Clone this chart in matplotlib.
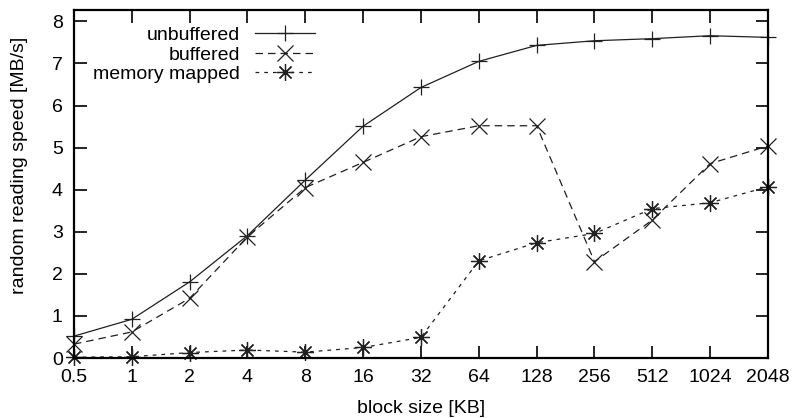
import numpy as np
import matplotlib.pyplot as plt

plt.rcParams['font.family'] = ['Liberation Sans', 'DejaVu Sans']

block_sizes = ["0.5", "1", "2", "4", "8", "16", "32", "64", "128", "256", "512", "1024", "2048"]
unbuffered = [0.52, 0.92, 1.81, 2.91, 4.23, 5.51, 6.43, 7.05, 7.43, 7.54, 7.59, 7.66, 7.62]
buffered = [0.33, 0.62, 1.42, 2.88, 4.05, 4.65, 5.26, 5.52, 5.52, 2.29, 3.28, 4.62, 5.04]
memory_mapped = [0.02, 0.03, 0.13, 0.19, 0.14, 0.25, 0.49, 2.31, 2.74, 2.96, 3.55, 3.69, 4.07]

x = np.arange(len(block_sizes))

fig = plt.figure(figsize=(7.97, 4.18), dpi=100)
ax = fig.add_axes([0.0928, 0.1435, 0.8708, 0.8325])

asterisk = (8, 2, 0)
ax.plot(x, unbuffered, color="#202020", lw=0.9, ls="-", marker="+",
        ms=12, mew=0.9, label="unbuffered", clip_on=False)
ax.plot(x, buffered, color="#202020", lw=0.9, ls=(0, (6, 4)), marker="x",
        ms=11, mew=0.9, label="buffered", clip_on=False)
ax.plot(x, memory_mapped, color="#202020", lw=0.9, ls=(0, (3, 4)), marker=asterisk,
        ms=12, mew=0.9, label="memory mapped", clip_on=False)

ax.set_xlim(0, len(block_sizes) - 1)
ax.set_ylim(0, 8.27)
ax.set_xticks(x)
ax.set_xticklabels(block_sizes)
ax.set_yticks(range(0, 9))

ax.tick_params(direction="in", length=9, width=1.2, top=True, right=True,
               labelsize=14, colors="black")
ax.tick_params(axis="x", pad=8)
ax.tick_params(axis="y", pad=8)
for s in ax.spines.values():
    s.set_linewidth(1.6)

ax.set_xlabel("block size [KB]", fontsize=14, labelpad=10)
ax.set_ylabel("random reading speed [MB/s]", fontsize=14)
ax.yaxis.set_label_coords(-0.066, 0.555)

ax.legend(loc="upper right", bbox_to_anchor=(0.347, 0.953), frameon=False,
          markerfirst=False, fontsize=14, handlelength=3.1, borderpad=0,
          borderaxespad=0, labelspacing=0.1, handletextpad=0.75)

fig.savefig("out.png", dpi=100)
